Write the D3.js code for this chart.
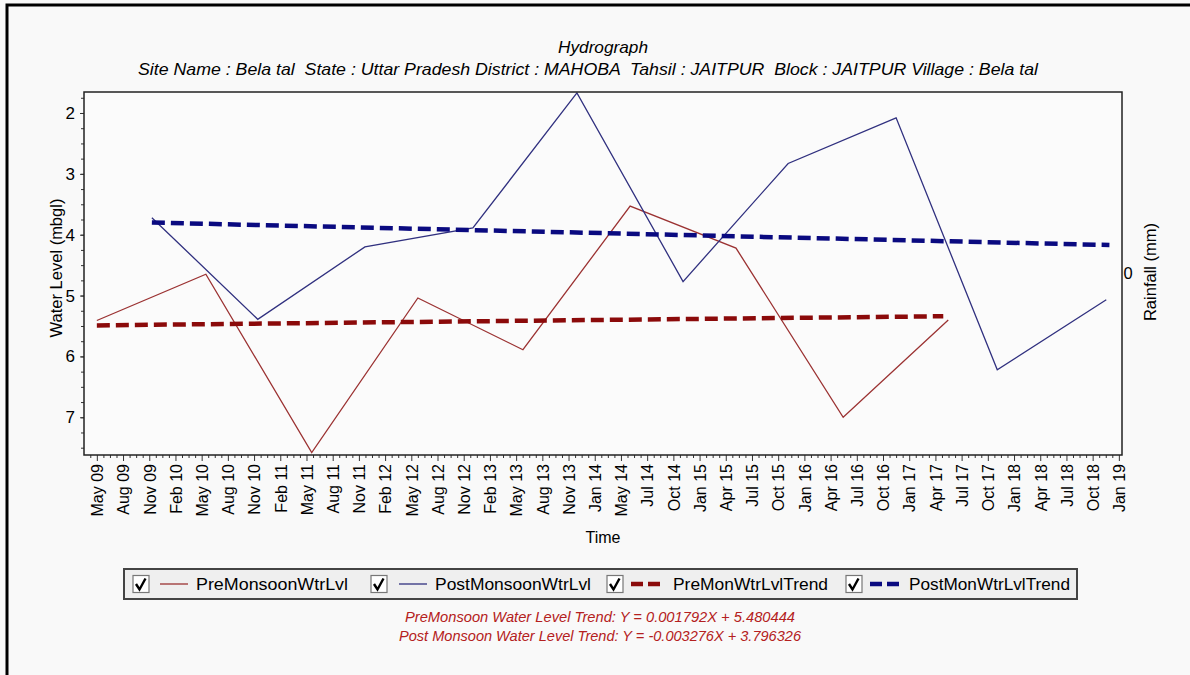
<!DOCTYPE html>
<html><head><meta charset="utf-8">
<script src="https://cdn.jsdelivr.net/npm/d3@7"></script>
<style>
body{margin:0;background:#f9f9f9;}
svg{display:block;font-family:"Liberation Sans",Arial,sans-serif;}
</style>
</head><body>
<svg id="c" width="1190" height="675"></svg>
<script>
// ---------------- data (x = position on the time axis, in tick steps from "May 09") ----------------
const tickLabels = ["May 09","Aug 09","Nov 09","Feb 10","May 10","Aug 10","Nov 10","Feb 11","May 11","Aug 11",
  "Nov 11","Feb 12","May 12","Aug 12","Nov 12","Feb 13","May 13","Aug 13","Nov 13","Jan 14",
  "May 14","Jul 14","Oct 14","Jan 15","Apr 15","Jul 15","Oct 15","Jan 16","Apr 16","Jul 16",
  "Oct 16","Jan 17","Apr 17","Jul 17","Oct 17","Jan 18","Apr 18","Jul 18","Oct 18","Jan 19"];
const levelTicks = [2, 3, 4, 5, 6, 7];
const preX      = [0.0, 4.16, 8.20, 12.25, 16.26, 20.35, 24.39, 28.48, 32.49];
const preLevel  = [5.41, 4.65, 7.58, 5.04, 5.89, 3.53, 4.22, 7.00, 5.40];
const postX     = [2.10, 6.14, 10.23, 14.35, 18.32, 22.37, 26.38, 30.50, 34.36, 38.52];
const postLevel = [3.72, 5.39, 4.20, 3.89, 1.67, 4.77, 2.83, 2.08, 6.22, 5.07];
const preTrendX      = [0.0, 32.3];
const preTrendLevel  = [5.49, 5.34];
const postTrendX     = [2.10, 38.64];
const postTrendLevel = [3.80, 4.17];
const legendNames = ["PreMonsoonWtrLvl","PostMonsoonWtrLvl","PreMonWtrLvlTrend","PostMonWtrLvlTrend"];
const titleText = "Hydrograph";
const subtitleText = "Site Name : Bela tal  State : Uttar Pradesh District : MAHOBA  Tahsil : JAITPUR  Block : JAITPUR Village : Bela tal";
const trendTexts = ["PreMonsoon Water Level Trend: Y = 0.001792X + 5.480444",
                    "Post Monsoon Water Level Trend: Y = -0.003276X + 3.796326"];

// ---------------- layout ----------------
const W = 1190, H = 675;
const P = {left: 84, right: 1122, top: 92, bottom: 455};
const C = {pre: "#9b3232", post: "#30307f", preTrend: "#8b0a0a", postTrend: "#0a0a80"};

const svg = d3.select("#c");
svg.append("rect").attr("width", W).attr("height", H).attr("fill", "#f9f9f9");
svg.append("path").attr("d", "M7,675V5H1190").attr("fill", "none").attr("stroke", "#000").attr("stroke-width", 3);

const x = d3.scaleLinear().domain([-0.49, 39.12]).range([P.left, P.right]);
const y = d3.scaleLinear().domain([1.655, 7.62]).range([P.top, P.bottom]);

svg.append("rect").attr("x", P.left).attr("y", P.top).attr("width", P.right - P.left).attr("height", P.bottom - P.top)
  .attr("fill", "#fbfbfb");

svg.append("clipPath").attr("id", "clip").append("rect")
  .attr("x", P.left).attr("y", P.top - 1).attr("width", P.right - P.left).attr("height", P.bottom - P.top + 2);

// titles
svg.append("text").attr("x", 603).attr("y", 53).attr("text-anchor", "middle")
  .attr("font-size", 16.5).attr("font-style", "italic")
  .attr("textLength", 90).attr("lengthAdjust", "spacingAndGlyphs").text(titleText);
svg.append("text").attr("x", 588).attr("y", 75).attr("text-anchor", "middle")
  .attr("font-size", 16.5).attr("font-style", "italic").style("white-space", "pre")
  .attr("textLength", 900).attr("lengthAdjust", "spacingAndGlyphs").text(subtitleText);

// y axis
const yMinor = d3.range(7, 31).map(k => k * 0.25).filter(v => v >= 1.7 && v <= 7.6);
svg.append("g").attr("transform", `translate(${P.left},0)`)
  .call(d3.axisLeft(y).tickValues(yMinor).tickSize(3).tickFormat(""))
  .call(g => g.select(".domain").remove())
  .call(g => g.selectAll("line").attr("stroke", "#333"));
svg.append("g").attr("transform", `translate(${P.left},0)`)
  .call(d3.axisLeft(y).tickValues(levelTicks).tickSize(4).tickPadding(5).tickFormat(d3.format("d")))
  .call(g => g.select(".domain").remove())
  .call(g => g.selectAll("line").attr("stroke", "#333"))
  .call(g => g.selectAll("text").attr("font-size", 17).attr("fill", "#000").attr("font-family", "Liberation Sans, Arial, sans-serif"));

svg.append("text").attr("transform", "translate(62,268) rotate(-90)").attr("text-anchor", "middle")
  .attr("font-size", 16.5).text("Water Level (mbgl)");

// right axis
svg.append("text").attr("x", 1128).attr("y", 279).attr("text-anchor", "middle").attr("font-size", 16.5).text("0");
svg.append("text").attr("transform", "translate(1156,272) rotate(-90)").attr("text-anchor", "middle")
  .attr("font-size", 16.5).text("Rainfall (mm)");

// x axis
const xMinor = d3.range(-4, 160).map(k => k * 0.25).filter(v => v >= -0.49 && v <= 39.12 && v % 1 !== 0);
svg.append("g").attr("transform", `translate(0,${P.bottom})`)
  .call(d3.axisBottom(x).tickValues(xMinor).tickSize(3).tickFormat(""))
  .call(g => g.select(".domain").remove())
  .call(g => g.selectAll("line").attr("stroke", "#333"));
svg.append("g").attr("transform", `translate(0,${P.bottom})`)
  .call(d3.axisBottom(x).tickValues(d3.range(tickLabels.length)).tickSize(6).tickFormat(i => tickLabels[i]))
  .call(g => g.select(".domain").remove())
  .call(g => g.selectAll("line").attr("stroke", "#333"))
  .call(g => g.selectAll("text")
    .attr("transform", "rotate(-90)").attr("text-anchor", "end")
    .attr("x", -9).attr("y", 0).attr("dy", "0.36em")
    .attr("font-size", 16).attr("fill", "#000").attr("font-family", "Liberation Sans, Arial, sans-serif"));

svg.append("text").attr("x", 603).attr("y", 543).attr("text-anchor", "middle").attr("font-size", 16).text("Time");

// series
const line = d3.line().x(d => x(d[0])).y(d => y(d[1]));
const plot = svg.append("g").attr("clip-path", "url(#clip)");
plot.append("path").datum(d3.zip(preX, preLevel)).attr("d", line)
  .attr("fill", "none").attr("stroke", C.pre).attr("stroke-width", 1.3);
plot.append("path").datum(d3.zip(postX, postLevel)).attr("d", line)
  .attr("fill", "none").attr("stroke", C.post).attr("stroke-width", 1.3);
plot.append("path").datum(d3.zip(preTrendX, preTrendLevel)).attr("d", line)
  .attr("fill", "none").attr("stroke", C.preTrend).attr("stroke-width", 4.5).attr("stroke-dasharray", "13,6");
plot.append("path").datum(d3.zip(postTrendX, postTrendLevel)).attr("d", line)
  .attr("fill", "none").attr("stroke", C.postTrend).attr("stroke-width", 4.5).attr("stroke-dasharray", "13,6");

// plot frame
svg.append("rect").attr("x", P.left).attr("y", P.top).attr("width", P.right - P.left).attr("height", P.bottom - P.top)
  .attr("fill", "none").attr("stroke", "#222").attr("stroke-width", 1.5);

// legend
const lg = svg.append("g");
lg.append("rect").attr("x", 124).attr("y", 569).attr("width", 953).attr("height", 30)
  .attr("fill", "#efefef").attr("stroke", "#444").attr("stroke-width", 2);
const items = [
  {cb: 133, l0: 160, l1: 188, tx: 196, tw: 152, color: C.pre, w: 1.3, dash: null},
  {cb: 371, l0: 399, l1: 427, tx: 435, tw: 156, color: C.post, w: 1.3, dash: null},
  {cb: 607, l0: 631, l1: 660, tx: 673, tw: 155, color: C.preTrend, w: 4.5, dash: "12,5"},
  {cb: 846, l0: 870, l1: 899, tx: 909, tw: 161, color: C.postTrend, w: 4.5, dash: "12,5"}
];
items.forEach((it, i) => {
  const g = lg.append("g");
  g.append("rect").attr("x", it.cb).attr("y", 575.5).attr("width", 16).attr("height", 17)
    .attr("fill", "#fff").attr("stroke", "#777").attr("stroke-width", 1.2);
  g.append("path").attr("d", `M${it.cb + 3},${584} L${it.cb + 6.5},${589.5} L${it.cb + 12.5},${578.5}`)
    .attr("fill", "none").attr("stroke", "#000").attr("stroke-width", 2.4);
  g.append("line").attr("x1", it.l0).attr("x2", it.l1).attr("y1", 584).attr("y2", 584)
    .attr("stroke", it.color).attr("stroke-width", it.w).attr("stroke-dasharray", it.dash);
  g.append("text").attr("x", it.tx).attr("y", 590).attr("font-size", 16.5)
    .attr("textLength", it.tw).attr("lengthAdjust", "spacingAndGlyphs").text(legendNames[i]);
});

// trend equations
const trendWidths = [390, 402];
trendTexts.forEach((t, i) => {
  svg.append("text").attr("x", 600).attr("y", 622 + i * 19).attr("text-anchor", "middle")
    .attr("font-size", 14).attr("font-style", "italic").attr("fill", "#b42020")
    .attr("textLength", trendWidths[i]).attr("lengthAdjust", "spacingAndGlyphs").text(t);
});
</script>
</body></html>
